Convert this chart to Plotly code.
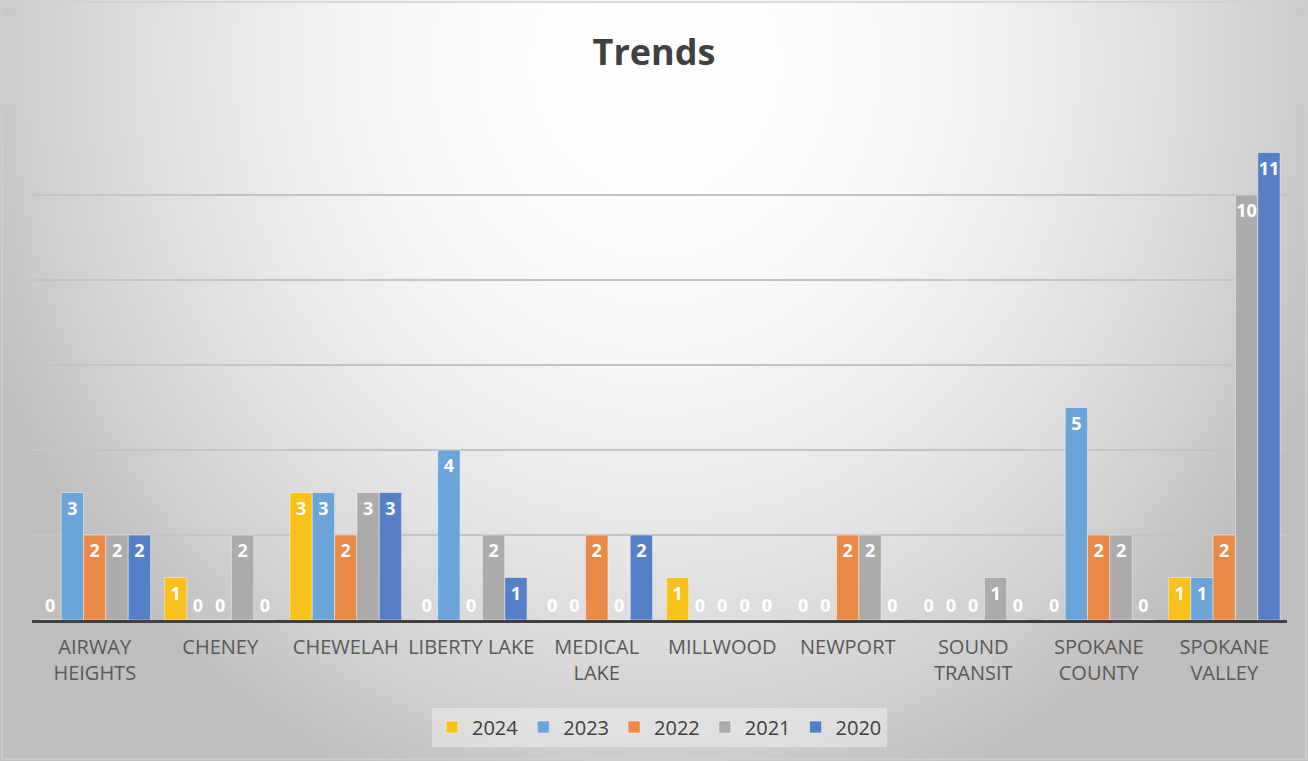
import base64, struct, zlib
import numpy as np
import plotly.graph_objects as go

categories = ["AIRWAY<br>HEIGHTS", "CHENEY", "CHEWELAH", "LIBERTY LAKE", "MEDICAL<br>LAKE",
              "MILLWOOD", "NEWPORT", "SOUND<br>TRANSIT", "SPOKANE<br>COUNTY", "SPOKANE<br>VALLEY"]
series_names = ["2024", "2023", "2022", "2021", "2020"]
v2024 = [0, 1, 3, 0, 0, 1, 0, 0, 0, 1]
v2023 = [3, 0, 3, 4, 0, 0, 0, 0, 5, 1]
v2022 = [2, 0, 2, 0, 2, 0, 2, 0, 2, 2]
v2021 = [2, 2, 3, 2, 0, 0, 2, 1, 2, 10]
v2020 = [2, 0, 3, 1, 2, 0, 0, 0, 0, 11]
series_values = [v2024, v2023, v2022, v2021, v2020]
colors = ["#F8C11C", "#6BA4D8", "#EB8A47", "#ABABAB", "#5580C8"]

W, H = 1308, 761
ML, MR, MT, MB = 32, 21, 110, 141
PW, PH = W - ML - MR, H - MT - MB


def png_uri(arr):
    h, w, _ = arr.shape
    raw = b"".join(b"\x00" + arr[i].tobytes() for i in range(h))

    def chunk(t, d):
        c = struct.pack(">I", len(d)) + t + d
        return c + struct.pack(">I", zlib.crc32(t + d) & 0xffffffff)

    png = b"\x89PNG\r\n\x1a\n" + chunk(b"IHDR", struct.pack(">IIBBBBB", w, h, 8, 2, 0, 0, 0)) \
        + chunk(b"IDAT", zlib.compress(raw, 9)) + chunk(b"IEND", b"")
    return "data:image/png;base64," + base64.b64encode(png).decode()


gw, gh = 327, 190
yy, xx = np.mgrid[0:gh, 0:gw]
xs = xx * (W / gw)
ys = yy * (H / gh)
d2 = ((xs - 654) / 700) ** 2 + ((ys - 60) / 760) ** 2
val = np.clip(255 - 60 * d2, 190, 255).astype(np.uint8)
img = np.stack([val, val, val], axis=-1)
bg_uri = png_uri(img)

fig = go.Figure()
for name, vals, col in zip(series_names, series_values, colors):
    fig.add_trace(go.Bar(
        name=name, x=categories, y=vals,
        marker=dict(color=col, line=dict(color="rgba(255,255,255,0.45)", width=1)),
        text=[str(v) for v in vals],
        textposition=["outside" if v == 0 else "inside" for v in vals],
        insidetextanchor="end",
        textangle=0,
        constraintext="none",
        insidetextfont=dict(color="white", size=18, family="Open Sans", weight="bold"),
        outsidetextfont=dict(color="white", size=18, family="Open Sans", weight="bold"),
        cliponaxis=False,
    ))

fig.update_layout(
    width=W, height=H,
    margin=dict(l=ML, r=MR, t=MT, b=MB),
    barmode="group", bargap=0.11, bargroupgap=0.0,
    paper_bgcolor="#E6E6E6", plot_bgcolor="rgba(0,0,0,0)",
    font=dict(family="Open Sans", color="#595959"),
    title=dict(text="<b>Trends</b>", x=0.5, xanchor="center", y=1 - 52 / H, yanchor="middle",
               yref="container", font=dict(size=36, color="#404040", family="Open Sans")),
    xaxis=dict(showline=True, linecolor="#404040", linewidth=3, ticks="",
               tickfont=dict(size=20, color="#595959"), ticklabelstandoff=7),
    yaxis=dict(range=[0, 12], dtick=2, showticklabels=False, gridcolor="#C4C4C4",
               gridwidth=1.5, zeroline=False),
    legend=dict(orientation="h", x=0.5, xanchor="center", y=(620 - 727) / PH, yanchor="middle",
                bgcolor="rgba(245,245,245,0.45)", font=dict(size=20, color="#404040"),
                traceorder="normal", itemwidth=30),
    images=[dict(source=bg_uri, xref="paper", yref="paper", x=-ML / PW, y=1 + MT / PH,
                 sizex=W / PW, sizey=H / PH, sizing="stretch", xanchor="left", yanchor="top",
                 layer="below")],
    shapes=[dict(type="rect", xref="paper", yref="paper", x0=-(ML - 2) / PW, x1=1 + (MR - 2) / PW,
                 y0=-(MB - 2) / PH, y1=1 + (MT - 2) / PH, line=dict(color="#CFCFCF", width=1.5),
                 layer="below")],
)

fig.write_html("out.html", config={"displayModeBar": False},
               post_script="document.body.style.margin='0';document.body.style.overflow='hidden';")
